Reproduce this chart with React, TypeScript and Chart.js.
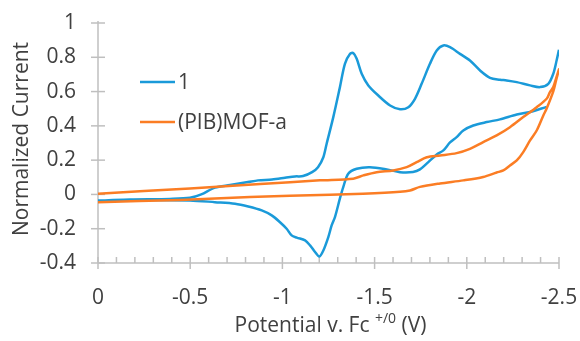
import React, { useEffect, useRef } from "react";
import { Chart, registerables } from "chart.js";

Chart.register(...registerables);

const xTicks = [0, -0.5, -1, -1.5, -2, -2.5];
const yTicks = [-0.4, -0.2, 0, 0.2, 0.4, 0.6, 0.8, 1];
const seriesNames = ["1", "(PIB)MOF-a"];
const seriesColors = ["#1a9ad9", "#fb7d24"];

// Compound 1: return sweep (from -2.43 V back to 0) then forward sweep (0 to -2.5 V)
const c1Potential = [
  -2.433, -2.343, -2.271, -2.18, -2.108, -2.035, -1.981, -1.945, -1.909, -1.873, -1.837, -1.79,
  -1.746, -1.708, -1.638, -1.566, -1.475, -1.403, -1.357, -1.33, -1.312, -1.285, -1.267, -1.249,
  -1.222, -1.2, -1.177, -1.15, -1.123, -1.078, -1.05, -1.023, -0.987, -0.942, -0.888, -0.815,
  -0.743, -0.634, -0.499, -0.282, 0,
  -0.174, -0.39, -0.499, -0.56, -0.634, -0.716, -0.813, -0.868, -0.944, -1.014, -1.068, -1.112,
  -1.161, -1.193, -1.222, -1.24, -1.276, -1.312, -1.339, -1.367, -1.384, -1.403, -1.43, -1.466,
  -1.52, -1.584, -1.638, -1.683, -1.719, -1.755, -1.8, -1.837, -1.873, -1.909, -1.963, -2.017,
  -2.072, -2.126, -2.18, -2.216, -2.271, -2.343, -2.397, -2.442, -2.469, -2.487, -2.5,
];
const c1Current = [
  0.511, 0.481, 0.466, 0.438, 0.422, 0.402, 0.373, 0.334, 0.303, 0.257, 0.233, 0.187,
  0.146, 0.131, 0.13, 0.146, 0.159, 0.15, 0.121, 0.043, -0.023, -0.132, -0.181, -0.249,
  -0.327, -0.362, -0.336, -0.297, -0.268, -0.252, -0.239, -0.2, -0.162, -0.122, -0.093, -0.07,
  -0.054, -0.045, -0.035, -0.032, -0.035,
  -0.029, -0.026, -0.02, 0.0, 0.04, 0.055, 0.072, 0.082, 0.087, 0.097, 0.105, 0.107,
  0.13, 0.159, 0.217, 0.296, 0.451, 0.626, 0.762, 0.82, 0.825, 0.791, 0.704, 0.636,
  0.577, 0.519, 0.497, 0.509, 0.558, 0.645, 0.762, 0.84, 0.869, 0.859, 0.82, 0.781,
  0.723, 0.68, 0.669, 0.665, 0.655, 0.636, 0.626, 0.645, 0.704, 0.781, 0.844,
];

// (PIB)MOF-a: forward sweep (0 to -2.5 V) then return sweep
const mofPotential = [
  0, -0.499, -0.879, -1.204, -1.384, -1.439, -1.511, -1.601, -1.674, -1.728, -1.783, -1.855,
  -1.945, -2.017, -2.089, -2.162, -2.234, -2.306, -2.379, -2.433, -2.451, -2.469, -2.484, -2.5,
  -2.484, -2.469, -2.433, -2.415, -2.379, -2.343, -2.306, -2.271, -2.234, -2.198, -2.162, -2.089,
  -1.981, -1.855, -1.746, -1.692, -1.638, -1.437, -1.258, -0.824, -0.445, 0,
];
const mofCurrent = [
  0.004, 0.035, 0.061, 0.082, 0.092, 0.111, 0.13, 0.14, 0.159, 0.188, 0.217, 0.227,
  0.241, 0.266, 0.305, 0.344, 0.392, 0.451, 0.509, 0.558, 0.597, 0.626, 0.676, 0.73,
  0.665, 0.601, 0.501, 0.461, 0.373, 0.315, 0.247, 0.198, 0.169, 0.14, 0.128, 0.102,
  0.082, 0.064, 0.044, 0.023, 0.015, 0.004, -0.002, -0.015, -0.032, -0.045,
];

const FONT = "'Open Sans', 'Noto Sans', sans-serif";
const TEXT = "#404040";
const AXIS = "#bfbfbf";

const zip = (xs: number[], ys: number[]) => xs.map((x, i) => ({ x, y: ys[i] }));

const decorPlugin = {
  id: "decor",
  beforeDatasetsDraw(chart: any) {
    const { ctx, scales } = chart;
    const x = scales.x;
    const y = scales.y;
    const x0 = x.getPixelForValue(0);
    const xr = x.getPixelForValue(-2.5);
    const yb = y.getPixelForValue(-0.4);
    const yt = y.getPixelForValue(1);
    ctx.save();
    ctx.strokeStyle = AXIS;
    ctx.lineWidth = 1.5;
    const line = (a: number, b: number, c: number, d: number) => {
      ctx.beginPath();
      ctx.moveTo(a, b);
      ctx.lineTo(c, d);
      ctx.stroke();
    };
    line(x0, yt - 2, x0, yb);
    yTicks.forEach((v) => {
      const p = y.getPixelForValue(v);
      line(x0 - 7, p, x0 + 7, p);
    });
    line(x0, yb, xr, yb);
    xTicks.forEach((v) => {
      const p = x.getPixelForValue(v);
      line(p, yb - 6, p, yb + 6);
    });
    for (let i = 1; i < 25; i++) {
      if (i % 5 === 0) continue;
      const p = x.getPixelForValue(-i / 10);
      line(p, yb - 6, p, yb);
    }
    ctx.restore();
  },
  afterDraw(chart: any) {
    const { ctx, chartArea } = chart;
    ctx.save();
    // legend
    const lx = chartArea.left + 42;
    const rows = [chartArea.top + 59, chartArea.top + 99];
    seriesNames.forEach((name, i) => {
      ctx.strokeStyle = seriesColors[i];
      ctx.lineWidth = 2.5;
      ctx.beginPath();
      ctx.moveTo(lx, rows[i]);
      ctx.lineTo(lx + 35, rows[i]);
      ctx.stroke();
      ctx.fillStyle = TEXT;
      ctx.font = `21px ${FONT}`;
      ctx.textAlign = "left";
      ctx.textBaseline = "middle";
      ctx.fillText(name, lx + 38, rows[i] + 1);
    });
    // x title with superscript
    const main1 = "Potential v. Fc ";
    const sup = "+/0";
    const main2 = " (V)";
    ctx.font = `21px ${FONT}`;
    const w1 = ctx.measureText(main1).width;
    const w3 = ctx.measureText(main2).width;
    ctx.font = `14px ${FONT}`;
    const w2 = ctx.measureText(sup).width;
    const total = w1 + w2 + w3;
    const cx = (chartArea.left + chartArea.right) / 2 + 2;
    let sx = cx - total / 2;
    const base = 332;
    ctx.textAlign = "left";
    ctx.textBaseline = "alphabetic";
    ctx.fillStyle = TEXT;
    ctx.font = `21px ${FONT}`;
    ctx.fillText(main1, sx, base);
    sx += w1;
    ctx.font = `14px ${FONT}`;
    ctx.fillText(sup, sx, base - 9);
    sx += w2;
    ctx.font = `21px ${FONT}`;
    ctx.fillText(main2, sx, base);
    // y title
    ctx.translate(28, 139);
    ctx.rotate(-Math.PI / 2);
    ctx.textAlign = "center";
    ctx.fillText("Normalized Current", 0, 0);
    ctx.restore();
  },
};

export default function App() {
  const ref = useRef<HTMLCanvasElement | null>(null);
  useEffect(() => {
    if (!ref.current) return;
    const chart = new Chart(ref.current, {
      type: "scatter",
      data: {
        datasets: [
          {
            label: seriesNames[0],
            data: zip(c1Potential, c1Current),
            showLine: true,
            borderColor: seriesColors[0],
            backgroundColor: seriesColors[0],
            borderWidth: 2.5,
            pointRadius: 0,
            tension: 0.3,
            order: 2,
          },
          {
            label: seriesNames[1],
            data: zip(mofPotential, mofCurrent),
            showLine: true,
            borderColor: seriesColors[1],
            backgroundColor: seriesColors[1],
            borderWidth: 2.5,
            pointRadius: 0,
            tension: 0.3,
            order: 1,
          },
        ],
      },
      options: {
        animation: false,
        responsive: false,
        devicePixelRatio: 1,
        layout: { padding: { left: 0, top: 23, right: 21, bottom: 0 } },
        plugins: { legend: { display: false }, tooltip: { enabled: false } },
        scales: {
          x: {
            type: "linear",
            min: -2.5,
            max: 0,
            reverse: true,
            grid: { display: false, drawTicks: false },
            border: { display: false },
            afterBuildTicks: (s: any) => {
              s.ticks = xTicks.map((v) => ({ value: v }));
            },
            afterFit: (s: any) => {
              s.height = 78;
              s.paddingLeft = 0;
              s.paddingRight = 0;
            },
            ticks: {
              padding: 22,
              color: TEXT,
              font: { family: FONT, size: 21 },
              maxRotation: 0,
              callback: (v: any) => (Number(v) === 0 ? "0" : String(Number(Number(v).toFixed(1)))),
            },
          },
          y: {
            type: "linear",
            min: -0.4,
            max: 1,
            grid: { display: false, drawTicks: false },
            border: { display: false },
            afterBuildTicks: (s: any) => {
              s.ticks = yTicks.map((v) => ({ value: v }));
            },
            afterFit: (s: any) => {
              s.width = 98;
              s.paddingTop = 0;
              s.paddingBottom = 0;
            },
            ticks: {
              padding: 22,
              color: TEXT,
              font: { family: FONT, size: 21 },
              callback: (v: any) => (Number(v) === 0 ? "0" : String(Number(Number(v).toFixed(1)))),
            },
          },
        },
      },
      plugins: [decorPlugin],
    });
    return () => chart.destroy();
  }, []);
  return (
    <div style={{ position: "fixed", left: 0, top: 0, width: 580, height: 341, background: "#fff" }}>
      <canvas ref={ref} width={580} height={341} style={{ display: "block" }} />
    </div>
  );
}
